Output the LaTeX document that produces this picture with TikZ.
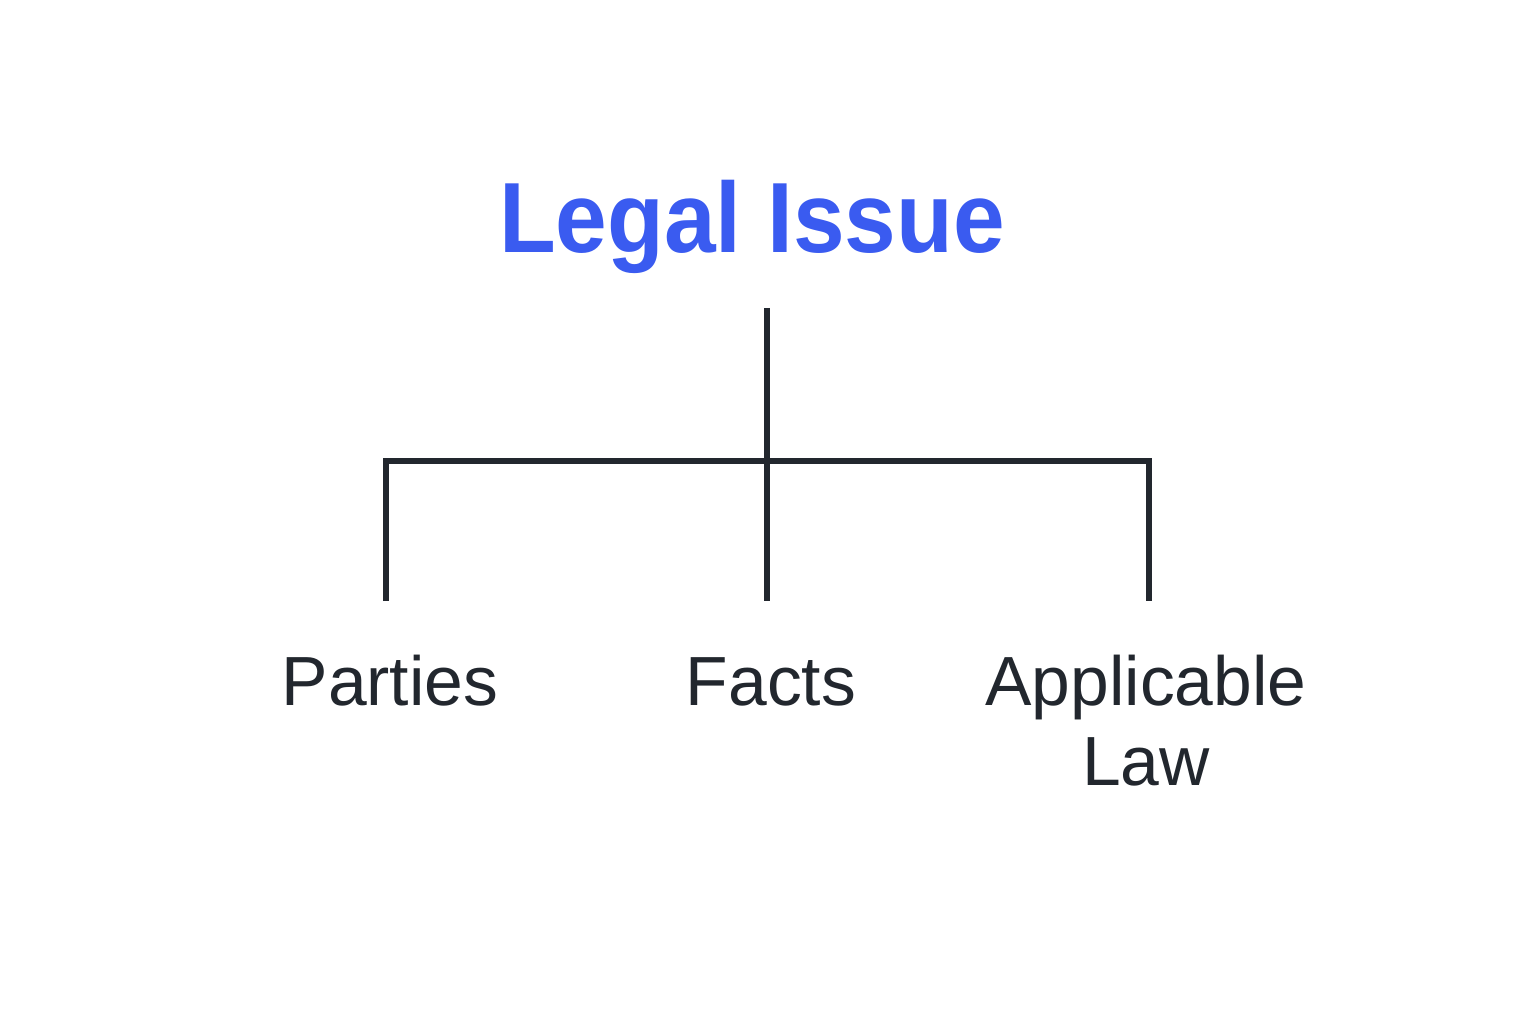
\documentclass[tikz,border=0pt]{standalone}
\usepackage{fontspec}
\setmainfont{Liberation Sans}
\newfontfamily\headfont{Liberation Sans Bold}[FakeStretch=0.93]
\usetikzlibrary{positioning}
\definecolor{issueblue}{HTML}{3A5BF0}
\definecolor{inkdark}{HTML}{22272E}
\tikzset{
  head/.style={font=\headfont\fontsize{28.4pt}{34pt}\selectfont, text=issueblue, anchor=base, inner sep=0pt},
  leaf/.style={font=\fontsize{19.8pt}{22.7pt}\selectfont, text=inkdark, anchor=base, inner sep=0pt, align=center},
  branch/.style={draw=inkdark, line width=1.8pt}
}
\begin{document}
\begin{tikzpicture}
\useasboundingbox (0,0) rectangle (15.36,10.24);
\node[head] (issue) at (7.52,7.71) {Legal Issue};
% tree lines
\coordinate (stem) at (7.67,7.16);
\coordinate (split) at (7.67,5.63);
\coordinate (pt) at (3.86,4.23);
\coordinate (ft) at (7.67,4.23);
\coordinate (lt) at (11.49,4.23);
\draw[branch] (stem) -- (ft);
\draw[branch] (pt) |- (split) -| (lt);
% leaves
\node[leaf] (parties) at (3.90,3.19) {Parties};
\node[leaf] (facts) at (7.71,3.19) {Facts};
\node[leaf] (law) at (11.46,2.39) {Applicable\\Law};
\end{tikzpicture}
\end{document}
